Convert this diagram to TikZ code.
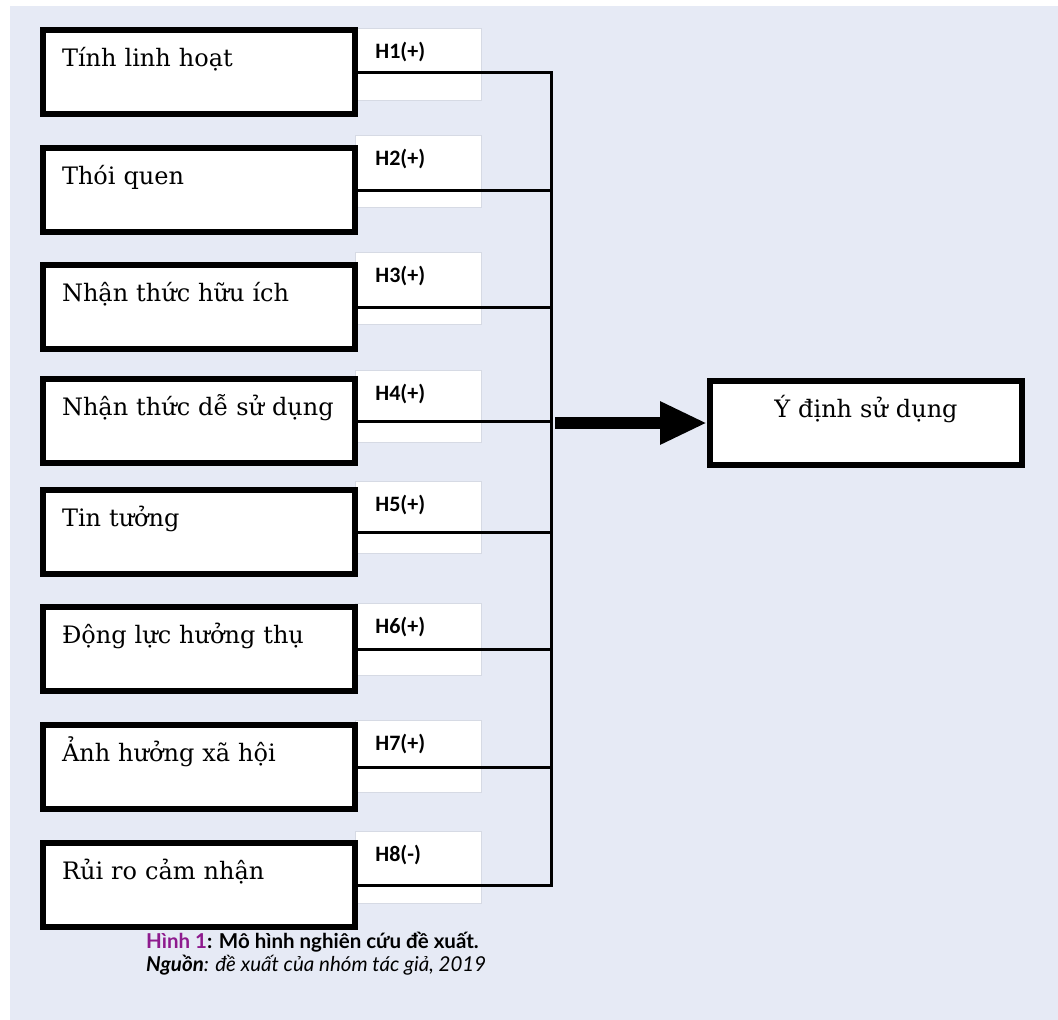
\documentclass[tikz,border=0pt]{standalone}
\usepackage{fontspec}
\setmainfont{DejaVu Serif}
\newfontfamily\labfont{Carlito}
\newfontfamily\capfont{Lato}
\usetikzlibrary{arrows.meta,calc}
\definecolor{panelbg}{RGB}{230,234,245}
\definecolor{labedge}{RGB}{214,218,228}
\definecolor{capurple}{RGB}{142,27,142}
\begin{document}
\begin{tikzpicture}[x=1pt,y=-1pt,
  mainbox/.style={draw, line width=6pt, fill=white, anchor=north west,
    minimum width=312pt, minimum height=84pt, inner xsep=19pt, inner ysep=0pt,
    text width=274pt, text height=36pt, text depth=48pt, align=left,
    font=\fontsize{24}{28}\selectfont},
  labbox/.style={draw=labedge, line width=0.8pt, fill=white, anchor=north west,
    minimum width=126pt, minimum height=72pt, inner xsep=20pt, inner ysep=0pt,
    text width=86pt, text height=30pt, text depth=42pt, align=left,
    font=\labfont\bfseries\fontsize{22}{24}\selectfont},
  conn/.style={draw, line width=3pt},
  bigarrow/.style={draw, line width=12pt, -{Triangle[length=47pt,width=40pt]}},
  captext/.style={anchor=base west, inner sep=0pt}
]
\fill[white] (0,0) rectangle (1058,1020);
\fill[panelbg] (10,6) rectangle (1058,1020);
\useasboundingbox (0,0) rectangle (1058,1020);

\foreach \n/\t/\bt/\lt/\h in {
 1/Tính linh hoạt/27/28/H1(+),
 2/Thói quen/145/135/H2(+),
 3/Nhận thức hữu ích/262/252/H3(+),
 4/Nhận thức dễ sử dụng/376/370/H4(+),
 5/Tin tưởng/487/481/H5(+),
 6/Động lực hưởng thụ/604/603/H6(+),
 7/Ảnh hưởng xã hội/722/720/H7(+),
 8/Rủi ro cảm nhận/840/831/H8(-)}
{
 \node[labbox] (l\n) at (355,\lt) {\h};
 \node[mainbox] (b\n) at (40,\bt) {\mbox{\t}};
}

\coordinate (bus) at (551,0);
\foreach \n in {1,...,8}
  \draw[conn] (b\n.east) -- (b\n.east -| bus);
\draw[conn, line cap=rect] (b1.east -| bus) -- (b8.east -| bus);

\node[mainbox, align=center] (t) at (707,378) {Ý định sử dụng};
\draw[bigarrow] ($(t.west -| bus)+(4,0)$) -- (t.west);

\node[captext, font=\capfont\bfseries\fontsize{20.5}{24}\selectfont] (cap1) at (146,948)
  {\textcolor{capurple}{Hình 1}: Mô hình nghiên cứu đề xuất.};
\node[captext, font=\capfont\itshape\fontsize{20.5}{24}\selectfont] (cap2) at (146,971)
  {\textbf{Nguồn}: đề xuất của nhóm tác giả, 2019};
\end{tikzpicture}
\end{document}
